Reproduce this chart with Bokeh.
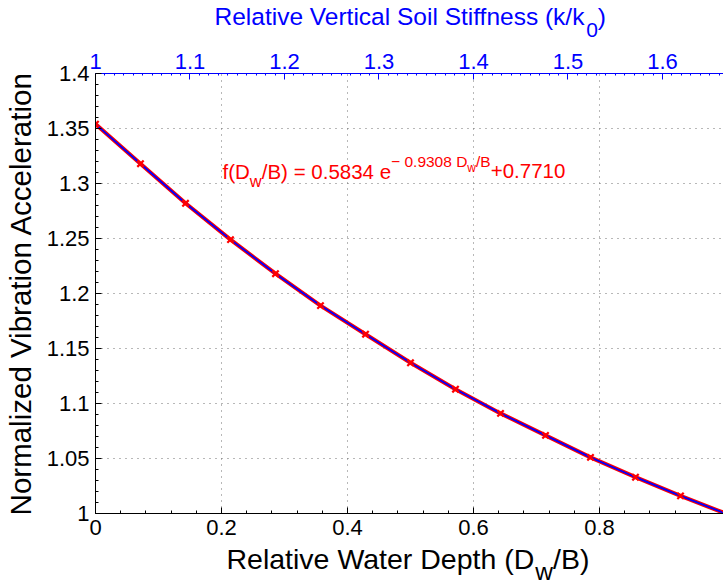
import numpy as np
from bokeh.plotting import figure
from bokeh.layouts import column
from bokeh.models import Range1d, LinearAxis, FixedTicker
from bokeh.core.properties import value
from bokeh.embed import file_html
from bokeh.resources import INLINE

# ---- data ----
water_depth = [0.0, 0.0714, 0.1429, 0.2143, 0.2857, 0.3571, 0.4286, 0.5,
               0.5714, 0.6429, 0.7143, 0.7857, 0.8571, 0.9286, 1.0]
norm_accel = [1.354, 1.318, 1.282, 1.249, 1.218, 1.189, 1.163, 1.137,
              1.113, 1.091, 1.071, 1.051, 1.033, 1.016, 1.000]
x_ticks = [0.0, 0.2, 0.4, 0.6, 0.8, 1.0]
y_ticks = [1.0, 1.05, 1.1, 1.15, 1.2, 1.25, 1.3, 1.35, 1.4]
top_ticks = [1.0, 1.1, 1.2, 1.3, 1.4, 1.5, 1.6]
stiffness_at_depth_1 = 1.6667   # k/k0 at Dw/B = 1

FONT = "Liberation Sans"
RED = "#ff0000"
BLUE = "#0000ff"

# ---- layout sizes ----
TOTAL_W = 723
TOP_H = 42          # strip holding the top title
BOT_H = 43          # strip holding the x label
MID_H = 501
MB_LEFT, MB_TOP, MB_BOTTOM = 95, 31, 30
F_H = MID_H - MB_TOP - MB_BOTTOM            # 440
F_W = TOTAL_W - MB_LEFT                      # 628
X_END = 0.9968
XS = F_W / X_END
YS = F_H / 0.4
FRAME_LEFT = MB_LEFT
FRAME_TOP = TOP_H + MB_TOP
MID = 0.36   # baseline -> vertical middle of the text box, in em


def dx(sx):   # page px -> data x of main plot
    return (sx - FRAME_LEFT) / XS


def dy(sy):   # page px -> data y of main plot
    return 1.4 - (sy - FRAME_TOP) / YS


p = figure(width=TOTAL_W, height=MID_H, x_range=Range1d(0, X_END), y_range=Range1d(1.0, 1.4),
           output_backend="svg", toolbar_location=None,
           min_border_left=MB_LEFT, min_border_right=0,
           min_border_top=MB_TOP, min_border_bottom=MB_BOTTOM)
p.outline_line_color = None
p.background_fill_color = "white"
p.border_fill_color = "white"

for ax, ticks, minor in ((p.xaxis[0], x_ticks, list(np.arange(0, 1.0001, 0.04))),
                         (p.yaxis[0], y_ticks, list(np.arange(1.0, 1.4001, 0.01)))):
    ax.ticker = FixedTicker(ticks=ticks, minor_ticks=minor)
    ax.axis_line_color = "black"
    ax.major_tick_line_color = "black"
    ax.minor_tick_line_color = "black"
    ax.major_tick_in = 6
    ax.major_tick_out = 0
    ax.minor_tick_in = 3
    ax.minor_tick_out = 0
    ax.major_label_text_font = FONT
    ax.major_label_text_font_size = "22px"
    ax.major_label_text_color = "black"
p.xaxis[0].major_label_standoff = 6
p.yaxis[0].major_label_standoff = 6
p.yaxis[0].axis_label = "Normalized Vibration Acceleration"
p.yaxis[0].axis_label_text_font = FONT
p.yaxis[0].axis_label_text_font_size = "29.5px"
p.yaxis[0].axis_label_text_font_style = "normal"
p.yaxis[0].axis_label_text_color = "black"
p.yaxis[0].axis_label_standoff = 7

p.extra_x_ranges = {"top": Range1d(1.0, 1.0 + X_END * (stiffness_at_depth_1 - 1.0))}
top = LinearAxis(x_range_name="top",
                 ticker=FixedTicker(ticks=top_ticks,
                                    minor_ticks=list(np.arange(1.0, 1.70, 0.01))))
top.axis_line_color = BLUE
top.major_tick_line_color = BLUE
top.minor_tick_line_color = BLUE
top.major_tick_in = 6
top.major_tick_out = 0
top.minor_tick_in = 2
top.minor_tick_out = 0
top.major_label_text_font = FONT
top.major_label_text_font_size = "22px"
top.major_label_text_color = BLUE
top.major_label_standoff = 5
p.add_layout(top, "above")

p.xgrid.ticker = FixedTicker(ticks=x_ticks)
p.ygrid.ticker = FixedTicker(ticks=y_ticks)
for g in (p.xgrid[0], p.ygrid[0]):
    g.grid_line_color = "#707070"
    g.grid_line_dash = "1 5"
    g.grid_line_width = 1

p.line(water_depth, norm_accel, line_color=RED, line_width=4)
p.line(water_depth, norm_accel, line_color=BLUE, line_width=1.8)
p.scatter(water_depth, norm_accel, marker="x", size=9, line_color=RED, line_width=2.2)

# ---- text helpers ----
CW = {' ': 278, '(': 333, ')': 333, '/': 278, '=': 584, '+': 584, '\u2212': 584, '.': 278,
      'A': 667, 'B': 667, 'D': 722, 'R': 722, 'S': 667, 'V': 667, 'W': 944, 'N': 722,
      'a': 556, 'b': 556, 'c': 500, 'd': 556, 'e': 556, 'f': 278, 'h': 556, 'i': 222,
      'k': 500, 'l': 222, 'm': 833, 'n': 556, 'o': 556, 'p': 556, 'r': 333, 's': 500,
      't': 278, 'v': 500, 'w': 722, 'z': 500}


def tw(text, size):
    return sum(CW.get(c, 556) for c in text) * size / 1000.0


def text_fig(h):
    # the column layout aligns this strip's frame with the main plot's frame,
    # so the x range runs over the page pixels that the frame covers
    f = figure(width=TOTAL_W, height=h, x_range=Range1d(FRAME_LEFT, TOTAL_W),
               y_range=Range1d(h, 0),
               output_backend="svg", toolbar_location=None,
               x_axis_type=None, y_axis_type=None,
               min_border_left=0, min_border_right=0, min_border_top=0, min_border_bottom=0)
    f.outline_line_color = None
    f.grid.visible = False
    f.background_fill_color = "white"
    f.border_fill_color = "white"
    return f


def rich(fig, pieces, x0, base, color, to_data):
    """pieces: (text, size px, baseline shift px, + is down); base = page baseline y"""
    x = x0
    for text, size, shift in pieces:
        lx, ly = to_data(x, base + shift - MID * size)
        fig.text(x=[lx], y=[ly], text=[text], text_font=value(FONT),
                 text_font_size=value(f"{size}px"), text_color=color,
                 text_baseline="middle", text_align="left")
        x += tw(text, size)


# top title strip
top_fig = text_fig(TOP_H)
rich(top_fig, [("Relative Vertical Soil Stiffness (k/k", 24.5, 0), ("0", 21, 12),
               (")", 24.5, 0)], 214, 25, BLUE, lambda x, y: (x, y))

# bottom strip with x label
bot_fig = text_fig(BOT_H)
off = TOP_H + MID_H
rich(bot_fig, [("Relative Water Depth (D", 28.5, 0), ("w", 24.5, 11), ("/B)", 28.5, 0)],
     226, 569, "black", lambda x, y: (x, y - off))

# fit annotation inside the plot
rich(p, [("f(D", 20.5, 0), ("w", 16.5, 8), ("/B) = 0.5834 e", 20.5, 0),
         ("\u2212 0.9308 D", 15.5, -11), ("w", 12, -6), ("/B", 15.5, -11),
         ("+0.7710", 20.5, 0)],
     222, 178, RED, lambda x, y: (dx(x), dy(y)))

layout = column(top_fig, p, bot_fig)
open("out.html", "w").write(file_html(layout, INLINE))
